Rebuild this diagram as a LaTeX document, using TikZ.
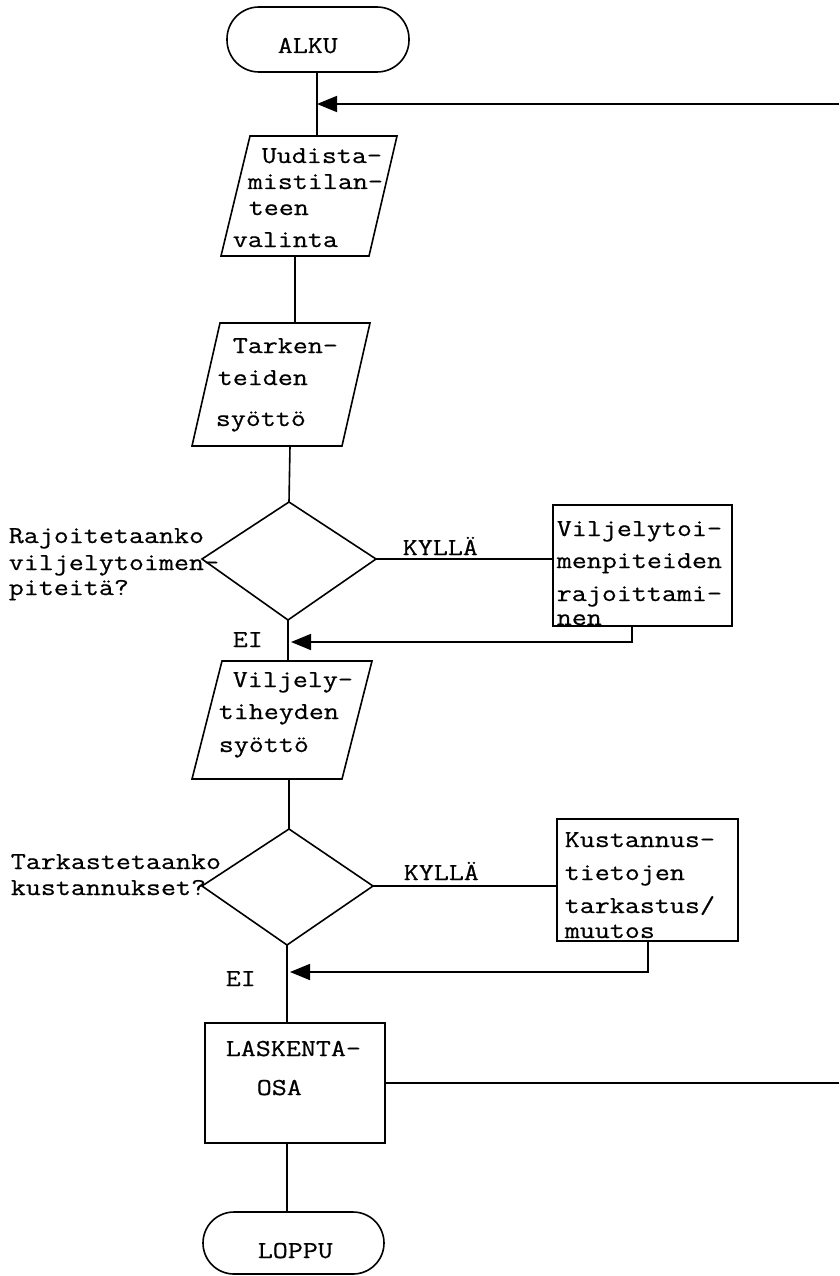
\documentclass[tikz,border=0pt]{standalone}
\usepackage{fontspec}
\setmonofont{Latin Modern Mono}[FakeStretch=1.2,FakeBold=0.6]
\usetikzlibrary{arrows.meta}
\begin{document}
\begin{tikzpicture}[x=1pt,y=-1pt,line width=1.6pt,
  txt/.style={anchor=base west,inner sep=0pt,font=\ttfamily\fontsize{24.3}{28}\selectfont},
  shp/.style={draw,line join=miter},
  conn/.style={draw},
  arr/.style={-{Triangle[length=20pt,width=16pt]}}]
\useasboundingbox (0,0) rectangle (839,1276);
% ---- shapes
\draw[shp,rounded corners=32pt] (227,7) rectangle (409,72);
\draw[shp] (250,136) -- (397,136) -- (369,256) -- (221,256) -- cycle;
\draw[shp] (220,323) -- (370,323) -- (342,446) -- (192,446) -- cycle;
\draw[shp] (289,502) -- (376,559) -- (288,620) -- (202,559) -- cycle;
\draw[shp] (553,505) rectangle (732,626);
\draw[shp] (222,661) -- (372,661) -- (342,779) -- (192,779) -- cycle;
\draw[shp] (289,829) -- (373,886) -- (287,945) -- (202,886) -- cycle;
\draw[shp] (557,819) rectangle (738,941);
\draw[shp] (205,1023) rectangle (385,1143);
\draw[shp,rounded corners=31pt] (203,1212) rectangle (384,1274);
% ---- connection points
\coordinate (alkuB) at (317,72);
\coordinate (arr1) at (317,104);
\coordinate (rtop) at (839,104);
\coordinate (p1T) at (317,136);
\coordinate (p1B) at (295,256);
\coordinate (p2T) at (295,323);
\coordinate (p2B) at (290,446);
\coordinate (d1T) at (289,502);
\coordinate (d1R) at (376,559);
\coordinate (b1L) at (553,559);
\coordinate (d1B) at (288,620);
\coordinate (p3T) at (288,661);
\coordinate (b1B) at (632,626);
\coordinate (m1) at (291,642);
\coordinate (p3B) at (289,779);
\coordinate (d2T) at (289,829);
\coordinate (d2R) at (373,886);
\coordinate (b2L) at (557,886);
\coordinate (d2B) at (287,945);
\coordinate (lT) at (287,1023);
\coordinate (b2B) at (648,941);
\coordinate (m2) at (290,972);
\coordinate (lR) at (385,1083);
\coordinate (rbot) at (839,1083);
\coordinate (lB) at (287,1143);
\coordinate (loT) at (287,1212);
% ---- connectors
\draw[conn] (alkuB) -- (p1T);
\draw[conn,arr] (rtop) -- (arr1);
\draw[conn] (p1B) -- (p2T);
\draw[conn] (p2B) -- (d1T);
\draw[conn] (d1R) -- (b1L);
\draw[conn] (d1B) -- (p3T);
\draw[conn,arr] (b1B) |- (m1);
\draw[conn] (p3B) -- (d2T);
\draw[conn] (d2R) -- (b2L);
\draw[conn] (d2B) -- (lT);
\draw[conn,arr] (b2B) |- (m2);
\draw[conn] (lR) -- (rbot);
\draw[conn] (lB) -- (loT);
% ---- texts
\node[txt] (t1) at (277,53) {ALKU};
\node[txt] (t2) at (261,163) {Uudista-};
\node[txt] (t3) at (247,189) {mistilan-};
\node[txt] (t4) at (248,215) {teen};
\node[txt] (t5) at (232,247) {valinta};
\node[txt] (t6) at (232,353) {Tarken-};
\node[txt] (t7) at (217,385) {teiden};
\node[txt] (t8) at (215,426) {syöttö};
\node[txt] (t9) at (8,543) {Rajoitetaanko};
\node[txt] (t10) at (8,570) {viljelytoimen-};
\node[txt] (t11) at (8,595) {piteitä?};
\node[txt] (t12) at (402,555) {KYLLÄ};
\node[txt] (t13) at (556,536) {Viljelytoi-};
\node[txt] (t14) at (556,568) {menpiteiden};
\node[txt] (t15) at (556,601) {rajoittami-};
\node[txt] (t16) at (556,625) {nen};
\node[txt] (t17) at (232,647) {EI};
\node[txt] (t18) at (232,687) {Viljely-};
\node[txt] (t19) at (218,719) {tiheyden};
\node[txt] (t20) at (218,752) {syöttö};
\node[txt] (t21) at (10,869) {Tarkastetaanko};
\node[txt] (t22) at (10,895) {kustannukset?};
\node[txt] (t23) at (403,880) {KYLLÄ};
\node[txt] (t24) at (564,847) {Kustannus-};
\node[txt] (t25) at (564,880) {tietojen};
\node[txt] (t26) at (564,913) {tarkastus/};
\node[txt] (t27) at (564,938) {muutos};
\node[txt] (t28) at (225,986) {EI};
\node[txt] (t29) at (225,1056) {LASKENTA-};
\node[txt] (t30) at (256,1095) {OSA};
\node[txt] (t31) at (257,1258) {LOPPU};
\end{tikzpicture}
\end{document}
